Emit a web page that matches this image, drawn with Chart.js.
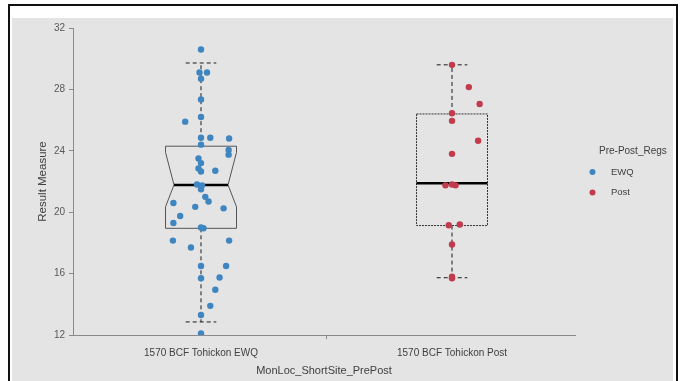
<!DOCTYPE html>
<html>
<head>
<meta charset="utf-8">
<script src="https://cdn.jsdelivr.net/npm/chart.js@4/dist/chart.umd.min.js"></script>
<style>
  html, body { margin: 0; padding: 0; background: #fff; }
  #chart { display: block; }
</style>
</head>
<body>
<canvas id="chart" width="689" height="381"></canvas>
<script>
// Categories and legend
const categories = ['1570 BCF Tohickon EWQ', '1570 BCF Tohickon Post']
const seriesNames = ['EWQ', 'Post']
const legendTitle = 'Pre-Post_Regs'
const yTicks = [12, 16, 20, 24, 28, 32]

const ewqValues = [30.6, 29.1, 29.1, 28.7, 27.35, 26.2, 25.9, 24.85, 24.85, 24.8, 24.4, 24.05, 23.75, 23.5, 23.2, 22.85, 22.65, 22.7, 21.8, 21.75, 21.5, 21.0, 20.7, 20.6, 20.35, 20.25, 19.75, 19.3, 19.0, 18.95, 18.15, 18.15, 17.7, 16.5, 16.5, 15.7, 15.75, 14.95, 13.9, 13.3, 12.1]
const ewqJitter = [0, -0.006, 0.024, 0, 0, 0, -0.063, 0, 0.037, 0.112, 0, 0.11, 0.11, -0.01, 0, -0.01, 0, 0.057, -0.016, 0.004, 0, 0.017, 0.03, -0.11, -0.023, 0.09, -0.083, -0.11, 0, 0.01, -0.112, 0.112, -0.04, 0, 0.1, 0, 0.074, 0.057, 0.037, 0, 0]
const postValues = [29.6, 28.15, 27.05, 26.45, 25.95, 24.65, 23.8, 21.75, 21.75, 21.8, 19.15, 19.2, 17.9, 15.8, 15.7]
const postJitter = [0, 0.067, 0.11, 0, 0, 0.104, 0, -0.026, 0.014, 0, -0.013, 0.031, 0, 0, 0]

// Box statistics per category
const whiskerLow = [12.85, 15.73]
const boxQ1 = [18.95, 19.13]
const boxMedian = [21.78, 21.88]
const boxQ3 = [24.3, 26.4]
const whiskerHigh = [29.72, 29.6]
const notchLow = [20.35, null]
const notchHigh = [23.9, null]

const pointColors = ['#3f86c0', '#c23a4c']

// box geometry in category units
const boxHalf = 0.1414
const notchHalf = 0.1076
const capHalf = 0.061

const frame = {
    id: 'frame',
    beforeDraw(chart) {
        const ctx = chart.ctx
        ctx.save()
        ctx.fillStyle = '#ffffff'
        ctx.fillRect(0, 0, chart.width, chart.height)
        ctx.fillStyle = '#e4e4e4'
        ctx.fillRect(12, 18, 661, chart.height - 18)
        ctx.strokeStyle = '#111'
        ctx.lineWidth = 2
        ctx.beginPath()
        ctx.moveTo(9, chart.height)
        ctx.lineTo(9, 5)
        ctx.lineTo(677, 5)
        ctx.lineTo(677, chart.height)
        ctx.stroke()
        ctx.restore()
    }
}

const boxes = {
    id: 'boxes',
    beforeDatasetsDraw(chart) {
        const ctx = chart.ctx
        const x = chart.scales.x
        const y = chart.scales.y
        categories.forEach((c, i) => {
            const cx = i + 1
            const mid = x.getPixelForValue(cx)
            const l = x.getPixelForValue(cx - boxHalf)
            const r = x.getPixelForValue(cx + boxHalf)
            ctx.save()

            // whiskers + caps
            ctx.strokeStyle = '#1a1a1a'
            ctx.lineWidth = 1
            ctx.setLineDash([4, 3])
            ctx.beginPath()
            ctx.moveTo(mid, y.getPixelForValue(boxQ3[i]))
            ctx.lineTo(mid, y.getPixelForValue(whiskerHigh[i]))
            ctx.moveTo(mid, y.getPixelForValue(boxQ1[i]))
            ctx.lineTo(mid, y.getPixelForValue(whiskerLow[i]))
            ;[whiskerHigh[i], whiskerLow[i]].forEach(v => {
                ctx.moveTo(x.getPixelForValue(cx - capHalf), y.getPixelForValue(v))
                ctx.lineTo(x.getPixelForValue(cx + capHalf), y.getPixelForValue(v))
            })
            ctx.stroke()

            // box outline
            ctx.beginPath()
            let ml = l, mr = r
            if (notchLow[i] != null) {
                ml = x.getPixelForValue(cx - notchHalf)
                mr = x.getPixelForValue(cx + notchHalf)
                ctx.strokeStyle = '#555'
                ctx.setLineDash([])
                ctx.moveTo(l, y.getPixelForValue(boxQ3[i]))
                ctx.lineTo(r, y.getPixelForValue(boxQ3[i]))
                ctx.lineTo(r, y.getPixelForValue(notchHigh[i]))
                ctx.lineTo(mr, y.getPixelForValue(boxMedian[i]))
                ctx.lineTo(r, y.getPixelForValue(notchLow[i]))
                ctx.lineTo(r, y.getPixelForValue(boxQ1[i]))
                ctx.lineTo(l, y.getPixelForValue(boxQ1[i]))
                ctx.lineTo(l, y.getPixelForValue(notchLow[i]))
                ctx.lineTo(ml, y.getPixelForValue(boxMedian[i]))
                ctx.lineTo(l, y.getPixelForValue(notchHigh[i]))
                ctx.closePath()
            } else {
                ctx.strokeStyle = '#333'
                ctx.setLineDash([2, 1])
                ctx.rect(l, y.getPixelForValue(boxQ3[i]), r - l, y.getPixelForValue(boxQ1[i]) - y.getPixelForValue(boxQ3[i]))
            }
            ctx.stroke()

            // median
            ctx.setLineDash([])
            ctx.strokeStyle = '#000'
            ctx.lineWidth = 2.5
            ctx.beginPath()
            ctx.moveTo(ml, y.getPixelForValue(boxMedian[i]))
            ctx.lineTo(mr, y.getPixelForValue(boxMedian[i]))
            ctx.stroke()
            ctx.restore()
        })
    }
}

const sideLegend = {
    id: 'sideLegend',
    afterDraw(chart) {
        const ctx = chart.ctx
        const {right, top} = chart.chartArea
        ctx.save()
        ctx.textBaseline = 'middle'
        ctx.textAlign = 'left'
        ctx.fillStyle = '#404040'
        ctx.font = '10px "Liberation Sans"'
        ctx.fillText(legendTitle, right + 24, top + 123)
        chart.data.datasets.forEach((ds, i) => {
            const yy = top + 144 + i * 20.5
            ctx.beginPath()
            ctx.arc(right + 17.5, yy, 3, 0, Math.PI * 2)
            ctx.fillStyle = ds.backgroundColor
            ctx.fill()
            ctx.fillStyle = '#404040'
            ctx.font = '9.5px "Liberation Sans"'
            ctx.fillText(ds.label, right + 36, yy)
        })
        ctx.restore()
    }
}

const toPoints = (vals, jit, cat) => vals.map((v, k) => ({x: cat + jit[k], y: v}))

const chart = new Chart(document.getElementById('chart'), {
    type: 'scatter',
    data: {
        datasets: [{
            label: seriesNames[0],
            data: toPoints(ewqValues, ewqJitter, 1),
            backgroundColor: pointColors[0],
            borderWidth: 0,
            pointRadius: 3.2
        }, {
            label: seriesNames[1],
            data: toPoints(postValues, postJitter, 2),
            backgroundColor: pointColors[1],
            borderWidth: 0,
            pointRadius: 3.2
        }]
    },
    options: {
        responsive: false,
        animation: false,
        devicePixelRatio: 1,
        layout: {padding: {left: 22, top: 28, right: 114, bottom: 0}},
        plugins: {
            legend: {display: false},
            tooltip: {enabled: false}
        },
        scales: {
            x: {
                type: 'linear',
                min: 0.49,
                max: 2.49,
                afterBuildTicks: s => { s.ticks = [1, 1.5, 2].map(v => ({value: v})) },
                afterFit: s => { s.height = 46 },
                grid: {
                    drawOnChartArea: false,
                    tickLength: 4,
                    tickColor: c => Number.isInteger(c.tick && c.tick.value) ? 'rgba(0,0,0,0)' : '#8a8a8a'
                },
                border: {display: true, color: '#8a8a8a', width: 1},
                ticks: {
                    padding: 8,
                    color: '#404040',
                    font: {family: 'Liberation Sans', size: 10},
                    callback: v => Number.isInteger(v) ? categories[v - 1] : ''
                },
                title: {
                    display: true,
                    text: 'MonLoc_ShortSite_PrePost',
                    color: '#404040',
                    font: {family: 'Liberation Sans', size: 11},
                    padding: {top: 0, bottom: 3}
                }
            },
            y: {
                min: 12,
                max: 32,
                afterBuildTicks: s => { s.ticks = yTicks.map(v => ({value: v})) },
                afterFit: s => { s.width = 51 },
                grid: {drawOnChartArea: false, tickLength: 4, color: '#8a8a8a'},
                border: {display: true, color: '#8a8a8a', width: 1},
                ticks: {
                    padding: 4,
                    color: '#595959',
                    font: {family: 'Liberation Sans', size: 10}
                },
                title: {
                    display: true,
                    text: 'Result Measure',
                    color: '#404040',
                    font: {family: 'Liberation Sans', size: 11.5},
                    padding: {top: 14, bottom: 0}
                }
            }
        }
    },
    plugins: [frame, boxes, sideLegend]
})
</script>
</body>
</html>
